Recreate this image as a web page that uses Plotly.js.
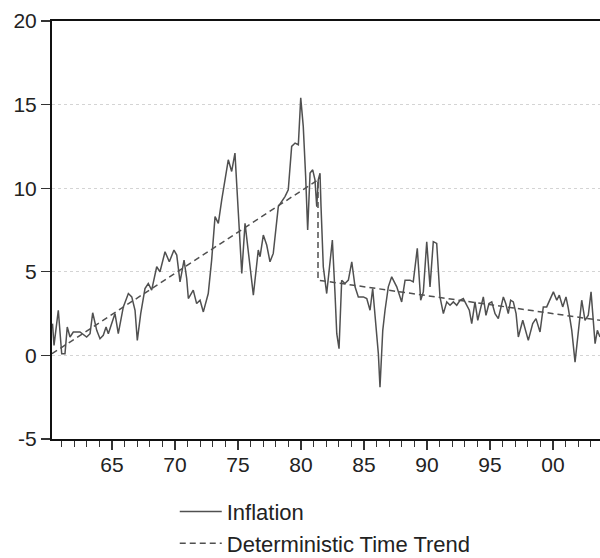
<!DOCTYPE html>
<html>
<head>
<meta charset="utf-8">
<script src="https://cdn.plot.ly/plotly-3.0.1.min.js"></script>
<style>html,body{margin:0;padding:0;background:#fff;}#chart{width:600px;height:558px;}</style>
</head>
<body>
<div id="chart"></div>
<script>
// Inflation, decimal year positions
var inflYears = [1960.28,1960.40,1960.74,1961.01,1961.27,1961.45,1961.67,1961.93,1962.46,1962.99,
1963.26,1963.47,1963.79,1964.05,1964.31,1964.53,1964.71,1964.98,1965.24,1965.50,
1965.90,1966.30,1966.57,1966.83,1967.01,1967.28,1967.62,1967.88,1968.15,1968.55,
1968.81,1969.21,1969.55,1969.92,1970.14,1970.40,1970.72,1970.93,1971.06,1971.45,
1971.72,1971.99,1972.25,1972.64,1972.91,1973.18,1973.44,1973.71,1973.97,1974.23,
1974.50,1974.76,1975.03,1975.30,1975.56,1975.82,1976.22,1976.61,1976.75,1977.01,
1977.28,1977.54,1977.80,1978.20,1978.47,1978.73,1978.99,1979.26,1979.53,1979.79,
1979.98,1980.18,1980.37,1980.53,1980.72,1980.93,1981.11,1981.25,1981.37,1981.51,
1981.59,1981.77,1982.04,1982.30,1982.49,1982.70,1982.84,1983.02,1983.23,1983.49,
1983.76,1984.03,1984.29,1984.55,1984.95,1985.22,1985.48,1985.69,1985.87,1986.14,
1986.27,1986.49,1986.67,1986.93,1987.20,1987.60,1987.99,1988.26,1988.65,1988.91,
1989.23,1989.50,1989.71,1989.98,1990.24,1990.50,1990.77,1991.03,1991.30,1991.57,
1991.83,1992.09,1992.36,1992.62,1992.88,1993.15,1993.36,1993.55,1993.81,1994.03,
1994.26,1994.47,1994.68,1994.92,1995.14,1995.40,1995.66,1996.06,1996.25,1996.45,
1996.64,1996.85,1997.07,1997.25,1997.60,1998.04,1998.39,1998.65,1998.97,1999.23,
1999.50,1999.76,2000.03,2000.30,2000.50,2000.77,2001.03,2001.22,2001.49,2001.75,
2002.01,2002.28,2002.54,2002.80,2003.02,2003.20,2003.34,2003.52,2003.73];
var inflation = [1.9,0.6,2.7,0.1,0.1,1.7,1.1,1.4,1.4,1.1,
1.3,2.55,1.5,1.0,1.2,1.7,1.3,1.9,2.5,1.3,
2.9,3.7,3.5,2.7,0.9,2.5,4.0,4.3,3.9,5.3,
5.0,6.2,5.6,6.3,6.0,4.4,5.7,4.6,3.4,3.9,
3.1,3.3,2.6,3.7,5.7,8.3,7.9,9.3,10.5,11.7,
11.0,12.1,8.5,4.9,7.9,6.2,3.6,6.3,5.9,7.2,
6.6,5.6,6.1,8.9,9.2,9.5,9.9,12.5,12.7,12.6,
15.4,13.7,10.7,7.5,10.9,11.1,10.5,8.9,10.5,10.9,
8.9,5.3,3.7,5.7,6.9,3.7,1.3,0.4,4.5,4.3,
4.5,5.6,4.1,3.5,3.5,3.4,2.7,4.0,2.5,0.1,
-1.9,1.5,2.7,4.1,4.7,4.1,3.2,4.5,4.5,4.4,
6.4,3.3,3.8,6.8,4.1,6.8,6.7,3.5,2.5,3.2,
3.0,3.2,3.0,3.3,3.4,3.0,2.7,1.9,3.2,2.1,
2.9,3.5,2.4,3.1,3.2,2.5,2.2,3.5,3.1,2.5,
3.3,3.2,2.5,1.1,2.1,0.9,1.9,2.2,1.4,2.9,
2.9,3.3,3.8,3.3,3.6,2.9,3.5,2.8,1.5,-0.4,
1.5,3.3,2.1,2.4,3.8,2.1,0.7,1.5,1.1];

// Deterministic time trend (broken linear trend), end points
var trendYears = [1960.24, 1981.35, 1981.35, 2003.73];
var trendValues = [0.1, 10.5, 4.5, 2.1];

// Axis labels
var xTickVals = [1965, 1970, 1975, 1980, 1985, 1990, 1995, 2000];
var xTickText = ["65", "70", "75", "80", "85", "90", "95", "00"];
var xMinorVals = [1961,1962,1963,1964,1966,1967,1968,1969,1971,1972,1973,1974,1976,1977,1978,1979,
1981,1982,1983,1984,1986,1987,1988,1989,1991,1992,1993,1994,1996,1997,1998,1999,2001,2002,2003];
var yTickVals = [-5, 0, 5, 10, 15, 20];
var yTickText = ["-5", "0", "5", "10", "15", "20"];

var font = "Arial, 'Liberation Sans', sans-serif";

var traces = [
  {x: inflYears, y: inflation, type: 'scatter', mode: 'lines', name: 'Inflation',
   line: {color: '#505050', width: 1.5}},
  {x: trendYears, y: trendValues, type: 'scatter', mode: 'lines', name: 'Deterministic Time Trend',
   line: {color: '#505050', width: 1.5, dash: '6px,4px'}}
];

var layout = {
  width: 600, height: 558,
  margin: {l: 52, r: 0, t: 21, b: 119, autoexpand: false},
  paper_bgcolor: '#fff', plot_bgcolor: '#fff',
  showlegend: true,
  legend: {x: 0.224, xref: 'paper', y: 0.1205, yref: 'container', xanchor: 'left', yanchor: 'top',
           orientation: 'v', itemwidth: 42,
           font: {family: font, size: 22, color: '#222'}, tracegroupgap: 0,
           bgcolor: 'rgba(0,0,0,0)'},
  xaxis: {range: [1960.24, 2003.73], tickmode: 'array', tickvals: xTickVals, ticktext: xTickText,
          ticks: 'outside', ticklen: 9, tickwidth: 1.2, tickcolor: '#333',
          minor: {tickmode: 'array', tickvals: xMinorVals, ticks: 'outside', ticklen: 6, tickwidth: 1.2, tickcolor: '#333', showgrid: false},
          showline: true, linecolor: '#111', linewidth: 2, mirror: true,
          showgrid: false, zeroline: false, ticklabelstandoff: -3,
          tickfont: {family: font, size: 21, color: '#222'}},
  yaxis: {range: [-5, 20], tickmode: 'array', tickvals: yTickVals, ticktext: yTickText,
          ticks: 'outside', ticklen: 9, tickwidth: 1.2, tickcolor: '#333',
          showline: true, linecolor: '#111', linewidth: 2,
          showgrid: true, gridcolor: '#d4d4d4', griddash: 'dot', gridwidth: 1,
          zeroline: false,
          tickfont: {family: font, size: 21, color: '#222'}}
};

Plotly.newPlot('chart', traces, layout, {staticPlot: true, displayModeBar: false});
</script>
</body>
</html>
